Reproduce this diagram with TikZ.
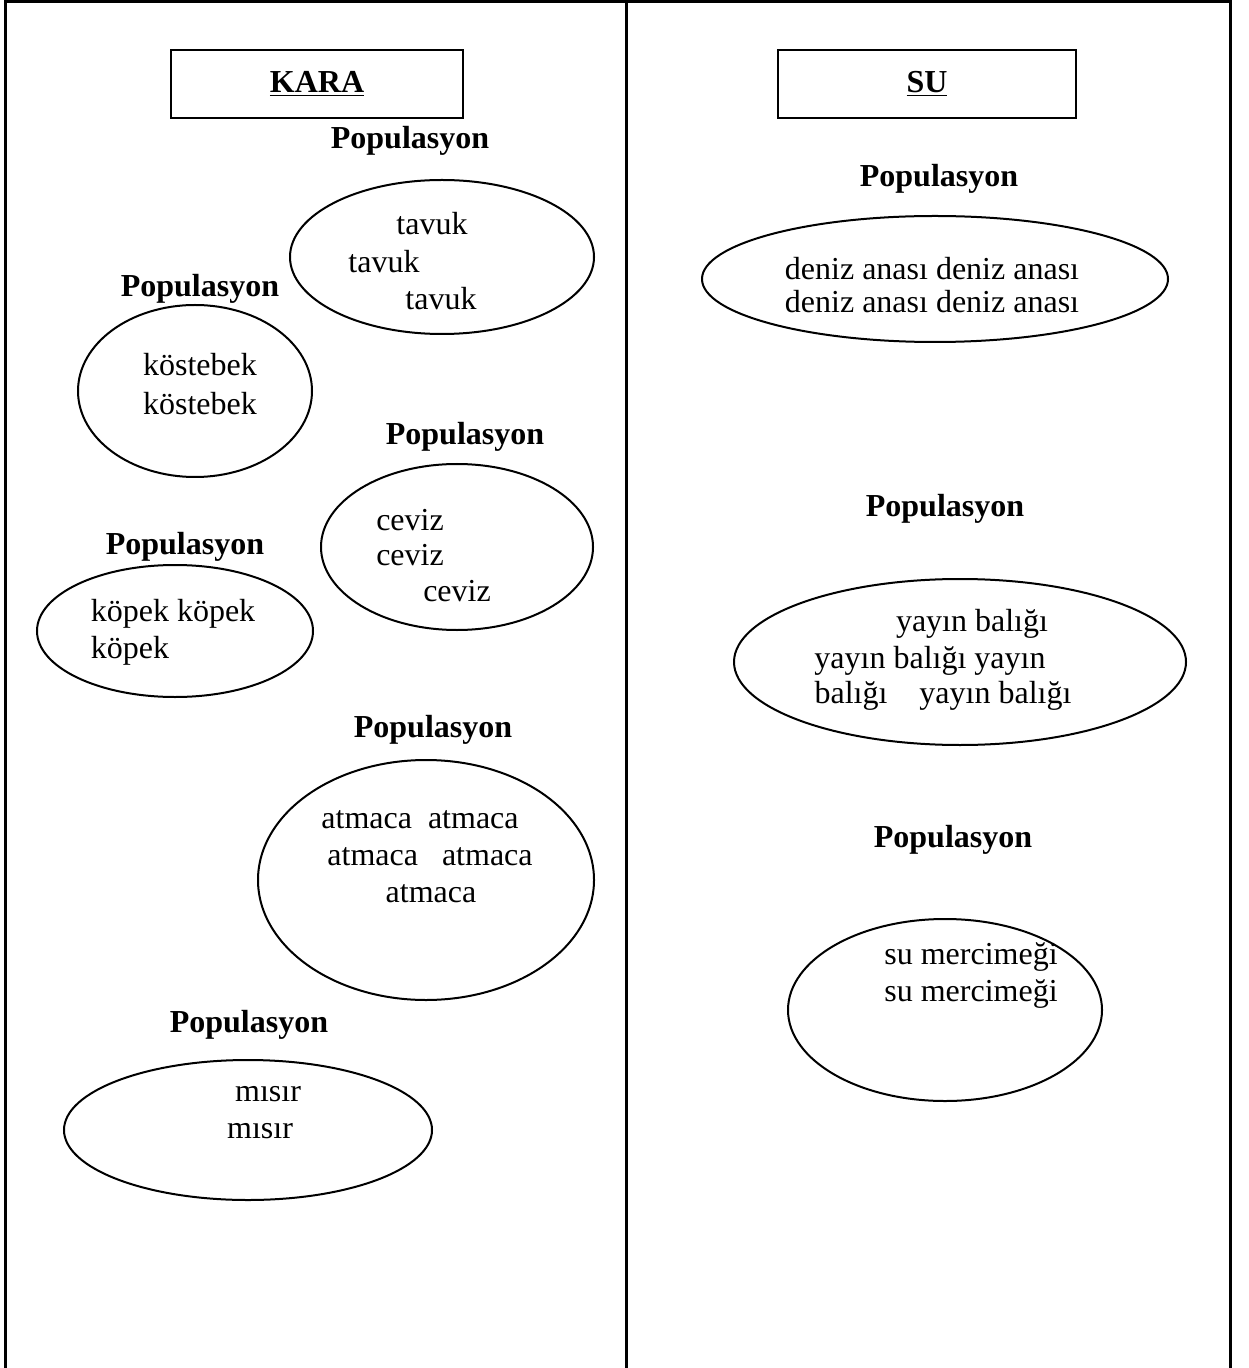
\documentclass[tikz,border=0pt]{standalone}
\usepackage{fontspec}
\setmainfont{Liberation Serif}
\usepackage{tikz}
\usetikzlibrary{shapes.geometric}

\begin{document}
\begin{tikzpicture}[x=0.5pt,y=-0.5pt,
  every node/.style={font=\fontsize{16}{18.5}\selectfont,inner sep=0pt},
  pop/.style={ellipse,draw,line width=1pt},
  headbox/.style={draw,line width=1pt,minimum height=34pt,
    font=\fontsize{16}{18.5}\selectfont\bfseries},
  poplabel/.style={font=\fontsize{16}{18.5}\selectfont\bfseries}
]
  \useasboundingbox (0,0) rectangle (1248,1368);

  % frame
  \draw[line width=1.5pt] (5,1368) -- (5,2) -- (1230,2) -- (1230,1368);
  \draw[line width=1.5pt] (626,2) -- (626,1368);

  % headers
  \node[headbox,minimum width=146pt] (kara) at (317,84) {\underline{KARA}};
  \node[headbox,minimum width=149pt] (su) at (927,84) {\underline{SU}};

  % KARA side
  \node[poplabel] (lbtavuk) at (410,141) {Populasyon};
  \node[pop,minimum width=152pt,minimum height=77pt] (tavuk) at (442,257) {};
  \node (tavuka) at (432,224) {tavuk};
  \node (tavukb) at (384,262) {tavuk};
  \node (tavukc) at (441,299) {tavuk};

  \node[poplabel] (lbkost) at (200,289) {Populasyon};
  \node[pop,minimum width=117pt,minimum height=86pt] (kost) at (195,391) {};
  \node (kosta) at (200,365) {köstebek};
  \node (kostb) at (200,404) {köstebek};

  \node[poplabel] (lbceviz) at (465,437) {Populasyon};
  \node[pop,minimum width=136pt,minimum height=83pt] (ceviz) at (457,547) {};
  \node (ceviza) at (410,520) {ceviz};
  \node (cevizb) at (410,555) {ceviz};
  \node (cevizc) at (457,591) {ceviz};

  \node[poplabel] (lbkopek) at (185,547) {Populasyon};
  \node[pop,minimum width=138pt,minimum height=66pt] (kopek) at (175,631) {};
  \node (kopeka) at (173,614) {köpek köpek};
  \node (kopekb) at (130,651) {köpek};

  \node[poplabel] (lbatmaca) at (433,730) {Populasyon};
  \node[pop,minimum width=168pt,minimum height=120pt] (atmaca) at (426,880) {};
  \node (atmacaa) at (420,820) {atmaca\ \ atmaca};
  \node (atmacab) at (430,857) {atmaca\ \ \ atmaca};
  \node (atmacac) at (431,894) {atmaca};

  \node[poplabel] (lbmisir) at (249,1025) {Populasyon};
  \node[pop,minimum width=184pt,minimum height=70pt] (misir) at (248,1130) {};
  \node (misira) at (268,1094) {mısır};
  \node (misirb) at (260,1131) {mısır};

  % SU side
  \node[poplabel] (lbdeniz) at (939,179) {Populasyon};
  \node[pop,minimum width=233pt,minimum height=63pt] (deniz) at (935,279) {};
  \node (deniza) at (932,269) {deniz anası deniz anası};
  \node (denizb) at (932,302) {deniz anası deniz anası};

  \node[poplabel] (lbyayin) at (945,509) {Populasyon};
  \node[pop,minimum width=226pt,minimum height=83pt] (yayin) at (960,662) {};
  \node (yayina) at (972,624) {yayın balığı};
  \node (yayinb) at (930,661) {yayın balığı yayın};
  \node (yayinc) at (943,696) {balığı\ \ \ \ yayın balığı};

  \node[poplabel] (lbmerc) at (953,840) {Populasyon};
  \node[pop,minimum width=157pt,minimum height=91pt] (merc) at (945,1010) {};
  \node (merca) at (971,957) {su mercimeği};
  \node (mercb) at (971,994) {su mercimeği};
\end{tikzpicture}
\end{document}
